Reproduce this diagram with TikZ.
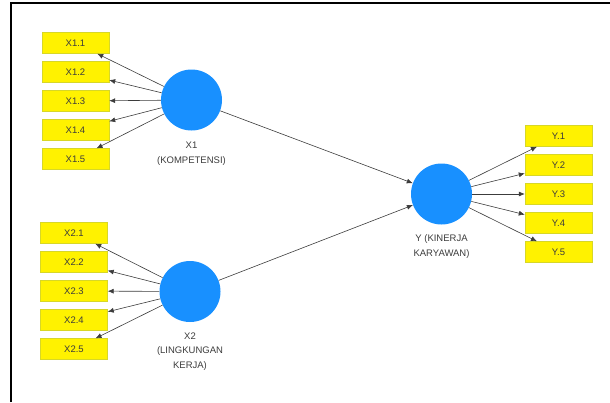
\documentclass[tikz,border=0pt]{standalone}
\usepackage{fontspec}
\setmainfont{Liberation Sans}
\usetikzlibrary{arrows.meta}

\definecolor{latentblue}{RGB}{24,144,255}
\definecolor{boxborder}{RGB}{215,215,40}
\definecolor{labelgray}{RGB}{60,60,60}
\definecolor{pathgray}{RGB}{60,60,60}

\begin{document}
\begin{tikzpicture}[x=1pt, y=-1pt,
      every node/.style = {font=\fontsize{9.5}{14.5}\selectfont, text=labelgray},
      latent/.style = {circle, fill=latentblue, minimum size=61pt, inner sep=0pt},
      indicator/.style = {rectangle, fill=yellow, draw=boxborder, line width=0.4pt,
        minimum width=67pt, minimum height=21pt, inner sep=0pt},
      caption/.style = {align=center},
      path/.style = {draw=pathgray, line width=0.6pt,
        -{Latex[length=6pt, width=5pt]}}]
      \useasboundingbox (0,0) rectangle (610,402);
      \draw[line width=2pt] (11,402) -- (11,3) -- (610,3);
      % latent variables
      \node[latent] (X1) at (191.5,100) {};
      \node[latent] (X2) at (190,291.5) {};
      \node[latent] (Y) at (441.5,194) {};
      \node[caption] (X1lbl) at (191.5,153.5) {X1\\(KOMPETENSI)};
      \node[caption] (X2lbl) at (190,351.5) {X2\\(LINGKUNGAN\\KERJA)};
      \node[caption] (Ylbl) at (441.5,246.5) {Y (KINERJA\\KARYAWAN)};
      % indicators
      \foreach \i in {1,...,5} {
        \node[indicator] (X1\i) at (75.5,14+29*\i) {X1.\i};
        \node[indicator] (X2\i) at (74,204+29*\i) {X2.\i};
        \node[indicator] (Y\i) at (558.5,107+29*\i) {Y.\i};
        \draw[path] (X1) -- (X1\i);
        \draw[path] (X2) -- (X2\i);
        \draw[path] (Y) -- (Y\i);
      }
      % structural paths
      \draw[path] (X1) -- (Y);
      \draw[path] (X2) -- (Y);
\end{tikzpicture}
\end{document}
